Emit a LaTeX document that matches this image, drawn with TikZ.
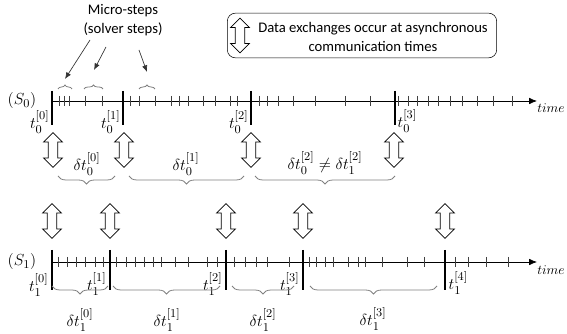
\documentclass[tikz,border=0pt]{standalone}
\usepackage{amsmath,amssymb}
\usepackage{fontspec}
\setmainfont{Carlito}
\usepackage{xcolor}
\usepackage{tikz}
\usetikzlibrary{arrows.meta,shapes.arrows,decorations.pathreplacing}

\tikzset{
  xarrow/.style={double arrow, draw, fill=white, shape border rotate=90,
    minimum height=26pt, inner sep=3.2pt,
    double arrow head extend=3.5pt, line width=0.6pt},
  ministep/.style={draw=black!75, line width=0.6pt},
  commbar/.style={line width=2.2pt},
  gbrace/.style={decorate, decoration={brace, amplitude=#1}, draw=black!50, line width=0.6pt},
  gbrace/.default=6pt,
  mlabel/.style={font=\fontsize{13}{15}\selectfont, inner sep=1pt},
  tlabel/.style={font=\fontsize{10}{12}\selectfont, inner sep=0pt},
  txt/.style={font=\fontsize{11}{14}\selectfont, align=center}
}

\begin{document}
\begin{tikzpicture}[x=0.75pt, y=-0.75pt]
    \useasboundingbox (0,0) rectangle (567,334);

    % Legend
    \node[draw, rounded corners=6pt, minimum width=202pt, minimum height=33.5pt] (legend) at (362,35.5) {};
    \node[xarrow] (legarrow) at (240,35.5) {};
    \node[txt] (legtext) at (373,37) {Data exchanges occur at asynchronous\\communication times};

    % Micro-steps
    \node[txt] (micro) at (123,20) {Micro-steps\\(solver steps)};
    \coordinate (ma1) at (90,40);
    \coordinate (ma2) at (106,47);
    \coordinate (ma3) at (139,50);
    \coordinate (mb1) at (65,79);
    \coordinate (mb2) at (94,70);
    \coordinate (mb3) at (147,72);
    \draw[-{Latex[length=5pt,width=4pt]}, black!80, line width=0.5pt] (ma1) -- (mb1);
    \draw[-{Latex[length=5pt,width=4pt]}, black!80, line width=0.5pt] (ma2) -- (mb2);
    \draw[-{Latex[length=5pt,width=4pt]}, black!80, line width=0.5pt] (ma3) -- (mb3);
    \draw[gbrace=3pt] (58,89) -- (72,89);
    \draw[gbrace=3pt] (84,89) -- (103,89);
    \draw[gbrace=3pt] (139,89) -- (155,89);

    % System S0
    \node[mlabel] (s0) at (22,101) {$(S_0)$};
    \coordinate (s0start) at (52,101);
    \coordinate (s0end) at (537,101);
    \draw[-{Latex[length=6pt,width=5pt]}, line width=0.6pt] (s0start) -- (s0end);
    \foreach \x in {59,64,69,85,102,130,139,155,171,179,188,203,215,230,237,
                    259,267,278,293,315,345,370,398,408,417,428,438,450,462,477,493,512}
      \draw[ministep] (\x,96) -- (\x,106);
    \foreach \x in {52,123,251,395}
      \draw[commbar] (\x,91) -- (\x,125);
    \node[tlabel, anchor=north west] (time0) at (537,103) {$time$};

    \node[mlabel, anchor=east] (t00) at (51,122) {$t_0^{[0]}$};
    \node[mlabel, anchor=east] (t01) at (122,122) {$t_0^{[1]}$};
    \node[mlabel, anchor=east] (t02) at (250,122) {$t_0^{[2]}$};
    \node[mlabel, anchor=west] (t03) at (396,121) {$t_0^{[3]}$};

    % Exchanges of S0
    \node[xarrow] (x00) at (53,150) {};
    \node[xarrow] (x01) at (124,150) {};
    \node[xarrow] (x02) at (251,150) {};
    \node[xarrow] (x03) at (394,150) {};

    \draw[gbrace, decoration={mirror}] (58,176) -- (115,176);
    \draw[gbrace, decoration={mirror}] (129,176) -- (244,176);
    \draw[gbrace, decoration={mirror}] (255,176) -- (395,176);
    \node[mlabel] (dt00) at (87,164) {$\delta t_0^{[0]}$};
    \node[mlabel] (dt01) at (186,164) {$\delta t_0^{[1]}$};
    \node[mlabel] (dt02) at (325,163) {$\delta t_0^{[2]} \neq \delta t_1^{[2]}$};

    % Exchanges of S1
    \node[xarrow] (x10) at (52,221) {};
    \node[xarrow] (x11) at (110,221) {};
    \node[xarrow] (x12) at (226,221) {};
    \node[xarrow] (x13) at (303,221) {};
    \node[xarrow] (x14) at (445,221) {};

    % System S1
    \node[mlabel] (s1) at (22,262) {$(S_1)$};
    \coordinate (s1start) at (52,262);
    \coordinate (s1end) at (537,262);
    \draw[-{Latex[length=6pt,width=5pt]}, line width=0.6pt] (s1start) -- (s1end);
    \foreach \x in {58,67,76,85,95,103,116,126,135,144,153,161,175,188,207,217,
                    234,245,256,267,289,309,316,325,333,348,358,365,382,407,424,
                    455,468,486,508}
      \draw[ministep] (\x,257) -- (\x,267);
    \foreach \x in {52,110,226,303,445}
      \draw[commbar] (\x,250) -- (\x,290);
    \node[tlabel, anchor=north west] (time1) at (537,265) {$time$};

    \node[mlabel, anchor=east] (t10) at (50,285) {$t_1^{[0]}$};
    \node[mlabel, anchor=east] (t11) at (108,284) {$t_1^{[1]}$};
    \node[mlabel, anchor=east] (t12) at (224,284) {$t_1^{[2]}$};
    \node[mlabel, anchor=east] (t13) at (301,284) {$t_1^{[3]}$};
    \node[mlabel, anchor=west] (t14) at (447,283) {$t_1^{[4]}$};

    \draw[gbrace, decoration={mirror}] (52,286) -- (108,286);
    \draw[gbrace, decoration={mirror}] (113,286) -- (220,286);
    \draw[gbrace, decoration={mirror}] (232,286) -- (294,286);
    \draw[gbrace, decoration={mirror}] (310,286) -- (437,286);
    \node[mlabel] (dt10) at (80,320) {$\delta t_1^{[0]}$};
    \node[mlabel] (dt11) at (167,320) {$\delta t_1^{[1]}$};
    \node[mlabel] (dt12) at (263,320) {$\delta t_1^{[2]}$};
    \node[mlabel] (dt13) at (373,319) {$\delta t_1^{[3]}$};
  \end{tikzpicture}
\end{document}
